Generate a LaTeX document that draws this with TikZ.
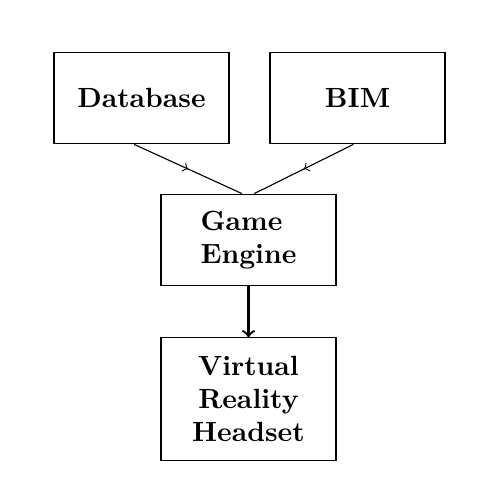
\documentclass[tikz,border=0pt]{standalone}
\usetikzlibrary{decorations.markings}

\tikzset{
	block/.style={draw,rectangle,minimum width=63pt,minimum height=33pt,font=\bfseries,inner sep=2pt},
	midarrow/.style={decoration={markings,mark=at position 0.5 with {\arrow{>}}},postaction={decorate}}
}

\begin{document}
\begin{tikzpicture}[x=0.36pt,y=-0.36pt]
			\useasboundingbox (0,0) rectangle (500,500);

			\node[block] (db) at (141.5,98) {Database};
			\node[block] (bim) at (357.5,98) {BIM};
			\node[block,align=left] (engine) at (248.5,240) {Game\\Engine};
			\node[block,align=center,minimum height=44pt] (vr) at (248.5,399) {Virtual\\Reality\\Headset};

			%\draw[->] (db) -- (engine);
			\draw[midarrow] (db.-99) -- (engine.98);
			\draw[midarrow] (bim.-95) -- (engine.83);
			\draw[->,thick] (engine) -- (vr);
		\end{tikzpicture}
\end{document}
